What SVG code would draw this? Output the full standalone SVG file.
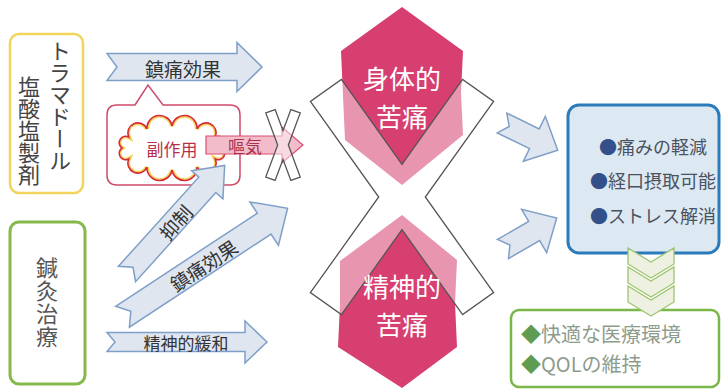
<svg xmlns="http://www.w3.org/2000/svg" width="722" height="391" viewBox="0 0 722 391">
<style>
  .jp { font-family: "Noto Sans CJK JP", "Noto Sans", sans-serif; }
  .barrow { fill: #dfe6ef; stroke: #7f9fc8; stroke-width: 1.5; stroke-linejoin: miter; }
  .alabel { font-size: 19px; fill: #333; text-anchor: middle; dominant-baseline: central; }
  .vtext { writing-mode: vertical-rl; font-size: 22px; fill: #444; }
  .pinktxt { font-size: 26px; fill: #ffffff; text-anchor: middle; }
  .cross { fill: #ffffff; fill-opacity: 0.45; stroke: #555; stroke-width: 1.3; stroke-linejoin: miter; }
  .chev { fill: #eef0e2; stroke: #9cc46e; stroke-width: 1.3; }
  .btext { font-size: 18px; fill: #4a5262; text-anchor: middle; }
  .gtext { font-size: 20px; fill: #8e9c8c; }
</style>
<defs>
  <path id="cloudShape" d="M222,148 A6.45,6.45 0 0 1 215.3,159 A10,10 0 0 1 197,167.1 A12.6,12.6 0 0 1 172,170 A12.6,12.6 0 0 1 147,167.1 A10,10 0 0 1 128.7,159 A6.45,6.45 0 0 1 122,148 A6.45,6.45 0 0 1 128.7,137 A10,10 0 0 1 147,128.9 A12.6,12.6 0 0 1 172,126 A12.6,12.6 0 0 1 197,128.9 A10,10 0 0 1 215.3,137 A6.45,6.45 0 0 1 222,148 Z"/>
  <clipPath id="cloudClip"><use href="#cloudShape"/></clipPath>
</defs>
<rect width="722" height="391" fill="#ffffff"/>

<!-- Left boxes -->
<g id="tramadol">
  <rect x="10" y="34" width="73" height="159" rx="9" fill="#ffffff" stroke="#f2d35c" stroke-width="2.5"/>
  <text class="jp vtext" x="60" y="40">トラマドール</text>
  <text class="jp vtext" x="29" y="76">塩酸塩製剤</text>
</g>
<g id="acupuncture">
  <rect x="10" y="222" width="75" height="162" rx="9" fill="#ffffff" stroke="#86b84a" stroke-width="3"/>
  <text class="jp vtext" x="47" y="257" style="fill:#555;letter-spacing:1px">鍼灸治療</text>
</g>

<!-- Side effect bubble -->
<g id="side-effect">
  <path d="M117,105 L135,105 L148,85 L163,105 L230,105 Q240,105 240,115 L240,175 Q240,185 230,185 L117,185 Q107,185 107,175 L107,115 Q107,105 117,105 Z" fill="#ffffff" stroke="#d04a6a" stroke-width="1.5"/>
  <use href="#cloudShape" fill="#ffffff"/>
  <use href="#cloudShape" fill="none" stroke="#f5d45a" stroke-width="4.5" clip-path="url(#cloudClip)"/>
  <use href="#cloudShape" fill="none" stroke="#d8283c" stroke-width="1.6"/>
  <text class="jp" x="172" y="148" font-size="17" fill="#b83048" text-anchor="middle" dominant-baseline="central">副作用</text>
</g>

<g id="nausea">
  <path d="M206,136 H282 V127 L303,145 L282,163 V154 H206 Z" fill="#f2bccb" stroke="#d85070" stroke-width="1.2"/>
  <text class="jp" x="245" y="145" font-size="17" fill="#a83050" text-anchor="middle" dominant-baseline="central">嘔気</text>
  <path class="cross" d="M275.14,109.52 L283,130.65 L290.86,109.52 L300.24,113 L288.34,145 L300.24,177 L290.86,180.48 L283,159.35 L275.14,180.48 L265.76,177 L277.66,145 L265.76,113 Z"/>
</g>

<!-- Central pain shapes -->
<g id="physical-pain">
  <path d="M402,7 L463,51 L461,93 L463,135 L402,185 L345,140 L343,96 L341,51 Z" fill="#d63f6f"/>
</g>
<g id="mental-pain">
  <path d="M402,215 L457,260 L455,303 L457,347 L402,388 L338,347 L340,304 L340,261 Z" fill="#d63f6f"/>
</g>
<g id="cross-out">
  <path class="cross" d="M341.4,79.4 L402,164.4 L462.6,79.4 L493.6,101.4 L425.3,197 L493.6,292.6 L462.6,314.6 L402,229.6 L341.4,314.6 L310.4,292.6 L378.7,197 L310.4,101.4 Z"/>
</g>
<g id="pain-labels">
  <text class="jp pinktxt" x="402" y="89">身体的</text>
  <text class="jp pinktxt" x="402" y="127">苦痛</text>
  <text class="jp pinktxt" x="402" y="297">精神的</text>
  <text class="jp pinktxt" x="402" y="335">苦痛</text>
</g>

<!-- Connectors / arrows -->
<g id="connectors">
  <g transform="translate(107,67)">
    <path class="barrow" d="M0,-13.5 H130 V-24.5 L155,0 L130,24.5 V13.5 H0 L10,0 Z"/>
    <text class="jp alabel" x="76" y="1">鎮痛効果</text>
  </g>
  <g transform="translate(127,274) rotate(-48)">
    <path class="barrow" d="M0,-11.5 H120 V-21 L146,0 L120,21 V11.5 H0 L9,0 Z"/>
    <text class="jp alabel" x="71" y="1">抑制</text>
  </g>
  <g transform="translate(122.5,316.7) rotate(-33.3)">
    <path class="barrow" d="M0,-12.5 H169.5 V-26 L197.5,0 L169.5,26 V12.5 H0 L10,0 Z"/>
    <text class="jp alabel" x="96" y="1">鎮痛効果</text>
  </g>
  <g transform="translate(107,342)">
    <path class="barrow" d="M0,-9.5 H138 V-21 L160,0 L138,21 V9.5 H0 L8,0 Z"/>
    <text class="jp alabel" x="79" y="0" style="font-size:17px">精神的緩和</text>
  </g>
  <g transform="translate(502,123) rotate(26)">
    <path class="barrow" d="M0,-11 H36 V-25 L62,0 L36,25 V11 H0 L8,0 Z"/>
  </g>
  <g transform="translate(503,249) rotate(-30)">
    <path class="barrow" d="M0,-11 H36 V-25 L62,0 L36,25 V11 H0 L8,0 Z"/>
  </g>
</g>

<!-- Outcome boxes -->
<g id="effects">
  <rect x="568" y="105" width="151" height="148" rx="11" fill="#dde9f2" stroke="#2b7bbb" stroke-width="3"/>
  <text class="jp btext" x="653" y="154"><tspan fill="#34508a">●</tspan>痛みの軽減</text>
  <text class="jp btext" x="653" y="188"><tspan fill="#34508a">●</tspan>経口摂取可能</text>
  <text class="jp btext" x="653" y="223"><tspan fill="#34508a">●</tspan>ストレス解消</text>
</g>
<g id="qol">
  <rect x="511" y="310" width="208" height="77" rx="8" fill="#ffffff" stroke="#7ab648" stroke-width="2.5"/>
  <text class="jp gtext" x="521" y="342"><tspan fill="#5e9c52">◆</tspan>快適な医療環境</text>
  <text class="jp gtext" x="521" y="372"><tspan fill="#5e9c52">◆</tspan>QOLの維持</text>
</g>
<g id="chevrons">
  <path class="chev" d="M628,248 L651,262 L674,248 L674,264 L651,278 L628,264 Z"/>
  <path class="chev" d="M628,267 L651,281 L674,267 L674,283 L651,297 L628,283 Z"/>
  <path class="chev" d="M628,286 L651,300 L674,286 L674,302 L651,316 L628,302 Z"/>
</g>
</svg>
